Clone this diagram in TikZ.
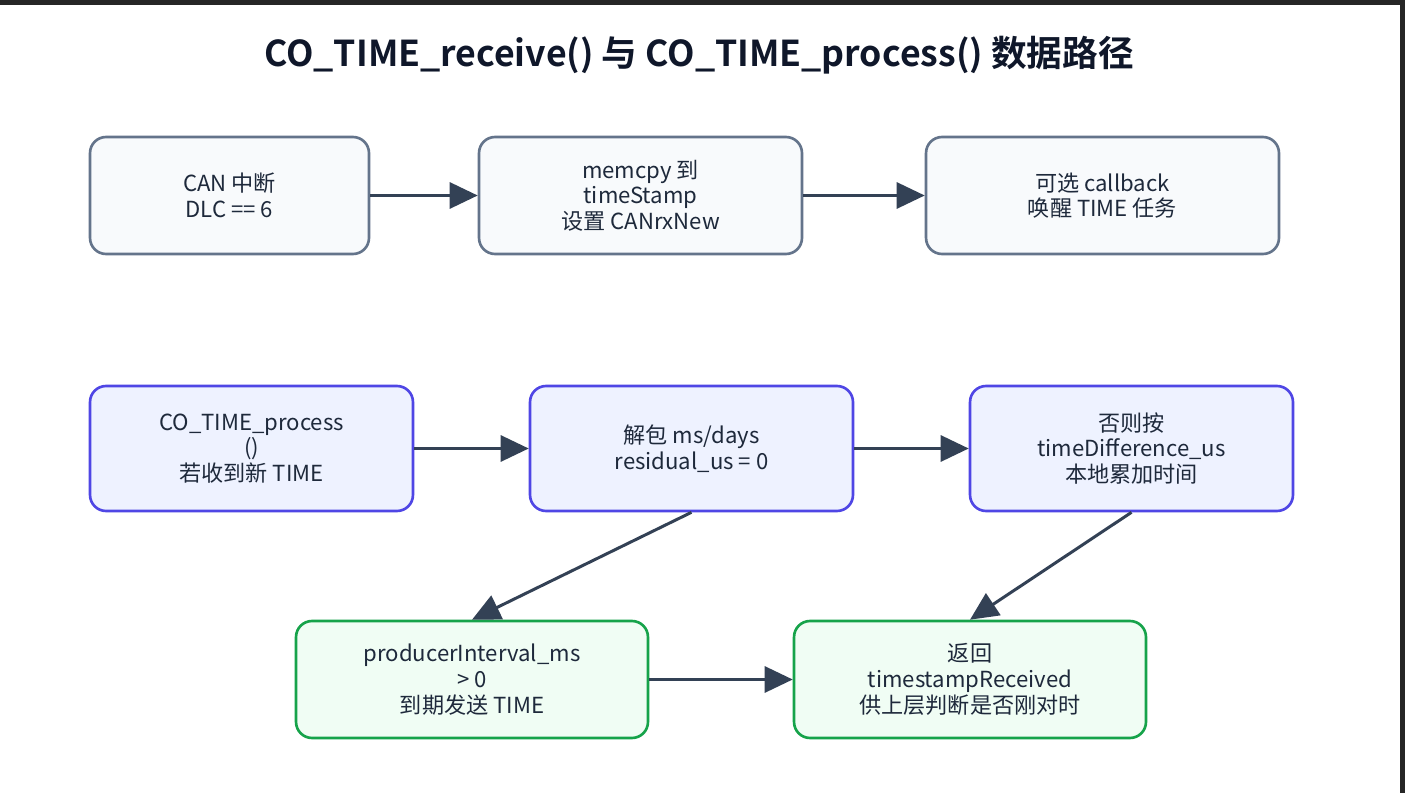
\documentclass[tikz,border=0pt]{standalone}
\usepackage{fontspec}
\setmainfont{Noto Sans CJK SC}[BoldFont={* Bold}]
\usepackage{xcolor}
\usetikzlibrary{arrows.meta, positioning}
\definecolor{slateline}{HTML}{64748B}
\definecolor{slatefill}{HTML}{F8FAFC}
\definecolor{indigoline}{HTML}{4F46E5}
\definecolor{indigofill}{HTML}{EEF2FF}
\definecolor{greenline}{HTML}{16A34A}
\definecolor{greenfill}{HTML}{F0FDF4}
\definecolor{arrowgray}{HTML}{334155}
\definecolor{titleink}{HTML}{0F172A}
\definecolor{textink}{HTML}{1E293B}
\definecolor{framedark}{HTML}{262626}

\begin{document}
\begin{tikzpicture}[
  x=0.02cm, y=-0.02cm,
  every node/.style={font=\fontsize{12.6}{14.6}\selectfont, text=textink},
  arr/.style={-{Triangle[length=0.56cm, width=0.52cm]}, line width=1.7pt, color=arrowgray},
  box/.style={draw, rounded corners=0.32cm, line width=1.5pt,
              align=center, minimum height=2.34cm, inner sep=4pt},
  recvbox/.style={box, fill=slatefill, draw=slateline},
  procbox/.style={box, fill=indigofill, draw=indigoline, minimum height=2.5cm, minimum width=6.46cm},
  outbox/.style={box, fill=greenfill, draw=greenline, minimum width=7.04cm}
]
\useasboundingbox (0,0) rectangle (1405,793);
\fill[white] (0,0) rectangle (1405,793);
% frame of the window
\fill[framedark] (0,0) rectangle (1405,5);
\fill[framedark] (1400,0) rectangle (1405,793);

% Title
\node[font=\fontsize{20.3}{24}\selectfont\bfseries, text=titleink] (title) at (699,55)
  {CO\_TIME\_receive() 与 CO\_TIME\_process() 数据路径};

% Row 1: receive
\node[recvbox, minimum width=5.58cm] (R1) at (229.5,195.5) {CAN 中断\\DLC == 6};
\node[recvbox, minimum width=6.46cm] (R2) at (640.5,195.5) {memcpy 到\\timeStamp\\设置 CANrxNew};
\node[recvbox, minimum width=7.06cm] (R3) at (1102.5,195.5) {可选 callback\\唤醒 TIME 任务};

% Row 2: process
\node[procbox] (P1) at (251.5,448.5) {CO\_TIME\_process\\()\\若收到新 TIME};
\node[procbox] (P2) at (691.5,448.5) {解包 ms/days\\residual\_us = 0};
\node[procbox] (P3) at (1131.5,448.5) {否则按\\timeDifference\_us\\本地累加时间};

% Row 3: results
\node[outbox] (O1) at (472,679.5) {producerInterval\_ms\\> 0\\到期发送 TIME};
\node[outbox] (O2) at (970,679.5) {返回\\timestampReceived\\供上层判断是否刚对时};

% Arrows
\draw[arr] (R1.east) -- (R2.west);
\draw[arr] (R2.east) -- (R3.west);

\draw[arr] (P1.east) -- (P2.west);
\draw[arr] (P2.east) -- (P3.west);

\draw[arr] (P2.south) -- (O1.north);
\draw[arr] (P3.south) -- (O2.north);
\draw[arr] (O1.east) -- (O2.west);

\end{tikzpicture}
\end{document}
